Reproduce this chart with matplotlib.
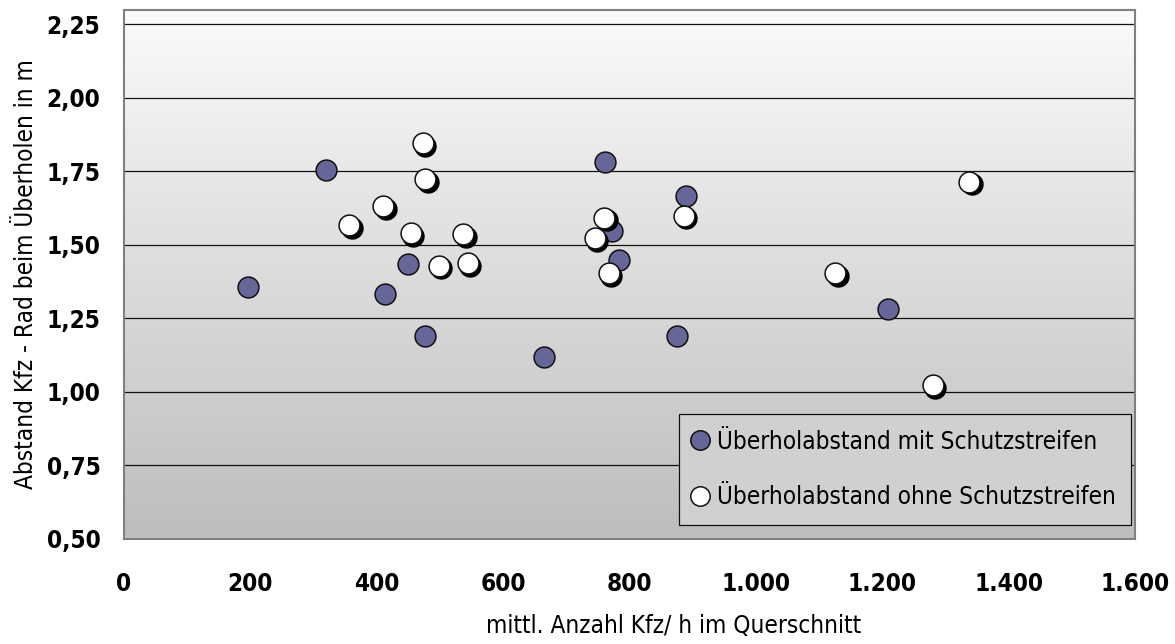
import numpy as np
import matplotlib
matplotlib.use("Agg")
import matplotlib.pyplot as plt
from matplotlib import font_manager
from matplotlib.colors import LinearSegmentedColormap
from matplotlib.lines import Line2D
import matplotlib.transforms as mtransforms

# --- data -------------------------------------------------------------
mit_x = [196, 320, 413, 450, 476, 665, 761, 773, 783, 875, 890, 1209]
mit_y = [1.358, 1.755, 1.332, 1.435, 1.19, 1.12, 1.78, 1.548, 1.448, 1.19, 1.666, 1.282]

ohne_x = [356, 410, 454, 473, 477, 498, 537, 544, 745, 760, 767, 886, 1126, 1280, 1338]
ohne_y = [1.566, 1.631, 1.539, 1.845, 1.723, 1.429, 1.536, 1.437, 1.522, 1.592, 1.403,
          1.599, 1.403, 1.022, 1.715]

x_ticks = [0, 200, 400, 600, 800, 1000, 1200, 1400, 1600]
x_tick_labels = ["0", "200", "400", "600", "800", "1.000", "1.200", "1.400", "1.600"]
y_ticks = [0.50, 0.75, 1.00, 1.25, 1.50, 1.75, 2.00, 2.25]
y_tick_labels = ["0,50", "0,75", "1,00", "1,25", "1,50", "1,75", "2,00", "2,25"]

label_mit = "Überholabstand mit Schutzstreifen"
label_ohne = "Überholabstand ohne Schutzstreifen"
x_title = "mittl. Anzahl Kfz/ h im Querschnitt"
y_title = "Abstand Kfz - Rad beim Überholen in m"

# --- fonts ------------------------------------------------------------
FAMILY = ["DejaVu Sans"]
STRETCH = "condensed"
plt.rcParams["font.family"] = FAMILY

FS = 17.5
BLUE = "#666699"

# --- figure -----------------------------------------------------------
fig = plt.figure(figsize=(11.75, 6.44), dpi=100)
ax = fig.add_axes([124 / 1175, 1 - 539 / 644, (1135 - 124) / 1175, (539 - 9.5) / 644])
ax.set_xlim(0, 1600)
ax.set_ylim(0.5, 2.30)

# gradient plot-area background
grad = LinearSegmentedColormap.from_list("bg", ["#bdbdbd", "#fbfbfb"])
ax.imshow(np.linspace(0, 1, 256).reshape(-1, 1), cmap=grad, origin="lower",
          extent=(0, 1600, 0.5, 2.30), aspect="auto", zorder=0, interpolation="bicubic")

# horizontal gridlines
for yv in y_ticks[1:]:
    ax.axhline(yv, color="#111111", lw=0.9, zorder=1)

for side in ["left", "right", "top", "bottom"]:
    ax.spines[side].set_color("#808080")
    ax.spines[side].set_linewidth(1.5)
    ax.spines[side].set_zorder(5)

ax.set_xticks(x_ticks)
ax.set_xticklabels(x_tick_labels)
ax.set_yticks(y_ticks)
ax.set_yticklabels(y_tick_labels)
ax.tick_params(axis="both", length=0, labelsize=FS)
ax.tick_params(axis="y", pad=17)
ax.tick_params(axis="x", pad=24)
for t in ax.get_xticklabels() + ax.get_yticklabels():
    t.set_fontweight("bold")
    t.set_fontstretch(STRETCH)

# series with shadowed white markers
ms = 15
ax.plot(mit_x, mit_y, ls="none", marker="o", ms=ms, mfc=BLUE, mec="#111111",
        mew=1.1, zorder=3)
shadow = mtransforms.offset_copy(ax.transData, fig=fig, x=2.6, y=-2.6, units="dots")
ax.plot(ohne_x, ohne_y, ls="none", marker="o", ms=ms, mfc="black", mec="black",
        mew=1.1, zorder=4, transform=shadow)
ax.plot(ohne_x, ohne_y, ls="none", marker="o", ms=ms, mfc="white", mec="#111111",
        mew=1.1, zorder=4)

# axis titles
ax.set_xlabel(x_title, fontsize=FS, fontstretch=STRETCH)
ax.xaxis.set_label_coords((674 - 124) / 1011, (539 - 614) / 529.5)
ax.set_ylabel(y_title, fontsize=FS, fontstretch=STRETCH)
ax.yaxis.label.set_va("center")
ax.yaxis.set_label_coords((26 - 124) / 1011, 0.5)

# legend
handles = [
    Line2D([], [], ls="none", marker="o", ms=14, mfc=BLUE, mec="#111111", mew=1.1),
    Line2D([], [], ls="none", marker="o", ms=14, mfc="white", mec="#111111", mew=1.1),
]
leg = ax.legend(handles, [label_mit, label_ohne], loc="lower left",
                bbox_to_anchor=((679 - 124) / 1011, (539 - 525) / 529.5),
                prop={"size": FS, "stretch": STRETCH},
                frameon=True, fancybox=False, borderpad=0.65, labelspacing=1.3,
                handletextpad=0.5, handlelength=0.4, borderaxespad=0)
frame = leg.get_frame()
frame.set_facecolor("#d0d0d0")
frame.set_edgecolor("#111111")
frame.set_linewidth(0.9)
frame.set_alpha(1)
leg.set_zorder(6)

fig.savefig("out.png", dpi=100)
